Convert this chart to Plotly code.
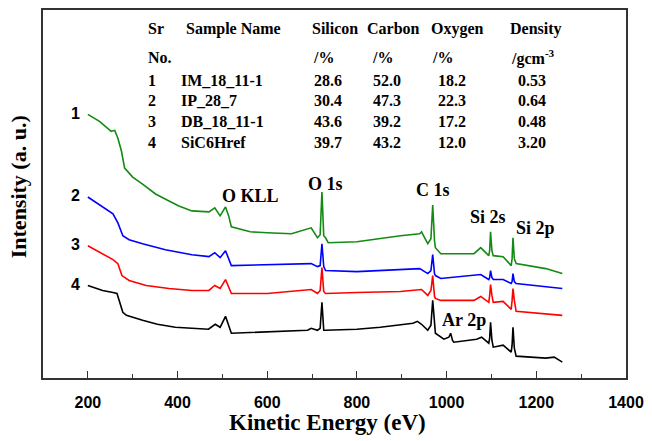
import plotly.graph_objects as go

# ---- data ----
E_1 = [200,226,252,260,267,275,282,300,322,351,381,403,432,470,483,495,507,514,520,562,600,654,698,712,718,722,726,730,736,800,897,940,944,958,965,969,973,975,987,1061,1076,1094,1096,1098,1101,1104,1126,1144,1146,1148,1151,1155,1221,1258]
I_1 = [265,258,248,249,241,228,211,202,195,185,178,173,168,167,171,163,172,163,152,147,146,145,151,141,144,187,143,141,136,137,143,145,147,135,140,174,138,131,125,125,131,123,128,147,128,123,122,113,120,141,120,115,110,105]

E_2 = [200,256,267,278,292,322,373,432,470,483,495,507,520,600,698,712,718,722,726,730,800,940,958,965,969,973,975,987,1076,1094,1096,1098,1101,1104,1126,1144,1146,1148,1151,1155,1258]
I_2 = [182,165,156,143,139,135,129,124,122,126,121,128,113,114,115,112,113,135,112,108,107,110,105,108,124,105,103,100,104,99,101,108,101,99,99,95,97,105,97,95,90]

E_3 = [200,256,267,276,292,330,381,432,470,483,495,507,520,600,698,712,718,722,726,730,800,897,944,958,965,969,973,975,987,1061,1076,1094,1096,1098,1101,1104,1126,1144,1146,1148,1151,1155,1258]
I_3 = [133,119,115,103,98,93,90,88,88,93,90,99,85,85,89,85,88,111,87,85,86,87,89,83,88,103,82,80,78,78,82,76,83,94,83,76,77,69,78,90,78,67,63]

E_4 = [200,233,256,265,278,286,322,355,395,469,484,495,507,520,690,698,712,718,722,726,730,800,852,925,935,944,958,965,969,973,975,994,1005,1009,1013,1016,1067,1078,1094,1096,1098,1101,1104,1126,1144,1146,1148,1151,1155,1221,1240,1258]
I_4 = [93,88,86,85,66,63,58,54,51,49,54,51,62,45,48,50,48,50,76,48,48,49,51,55,57,54,48,53,78,50,45,39,41,45,38,36,39,41,35,40,56,38,31,33,26,33,51,30,22,20,21,16]

curve_labels = ["1", "2", "3", "4"]
curve_colors = ["#138a13", "#0000ff", "#ff0000", "#000000"]

peak_names = ["O KLL", "O 1s", "C 1s", "Si 2s", "Si 2p", "Ar 2p"]
peak_E = [562, 730, 969, 1093, 1199, 1038]
peak_I = [183, 195, 189, 162, 151, 58]

x_ticks = [200, 400, 600, 800, 1000, 1200, 1400]

table_header1 = ["Sr", "Sample Name", "Silicon", "Carbon", "Oxygen", "Density"]
table_header2 = ["No.", "/%", "/%", "/%", "/gcm<sup>-3</sup>"]
table_sr = ["1", "2", "3", "4"]
table_names = ["IM_18_11-1", "IP_28_7", "DB_18_11-1", "SiC6Href"]
table_si = ["28.6", "30.4", "43.6", "39.7"]
table_c = ["52.0", "47.3", "39.2", "43.2"]
table_o = ["18.2", "22.3", "17.2", "12.0"]
table_rho = ["0.53", "0.64", "0.48", "3.20"]

# ---- figure ----
fig = go.Figure()
series = [(E_1, I_1), (E_2, I_2), (E_3, I_3), (E_4, I_4)]
for (ex, iy), col in zip(series, curve_colors):
    fig.add_trace(go.Scatter(x=ex, y=iy, mode="lines",
                             line=dict(color=col, width=1.6), showlegend=False))

serif = "Liberation Serif, Times New Roman, serif"
sans = "Liberation Sans, Arial, sans-serif"

ann = []
# curve numbers
for lab, (ex, iy) in zip(curve_labels, series):
    ann.append(dict(x=ex[0] - 14, y=iy[0] + 1, xref="x", yref="y", text=lab,
                    showarrow=False, xanchor="right", yanchor="middle",
                    font=dict(family=sans, size=16, color="black", weight="bold")))
# peak labels
for n, ex, iy in zip(peak_names, peak_E, peak_I):
    ann.append(dict(x=ex, y=iy, xref="x", yref="y", text=n, showarrow=False,
                    xanchor="center", yanchor="middle",
                    font=dict(family=serif, size=18, color="black", weight="bold")))

# table (pixel positions -> paper)
L, R, T, B = 43, 631, 8, 378
def px(x):
    return (x - L) / (R - L)
def py(y):
    return (B - y) / (B - T)

col_x_header = [147, 185, 312, 368, 432, 512]
col_x_sub = [147, 313, 373, 433, 513]
col_x_rows = [147, 180, 314, 374, 439, 520]
tfont = dict(family=serif, size=16, color="black", weight="bold")
for t, x in zip(table_header1, col_x_header):
    ann.append(dict(x=px(x), y=py(27), xref="paper", yref="paper", text=t,
                    showarrow=False, xanchor="left", yanchor="middle", font=tfont))
for t, x in zip(table_header2, col_x_sub):
    ann.append(dict(x=px(x), y=py(56), xref="paper", yref="paper", text=t,
                    showarrow=False, xanchor="left", yanchor="middle", font=tfont))
row_y = [79, 99, 120, 141]
for i, yy in enumerate(row_y):
    vals = [table_sr[i], table_names[i], table_si[i], table_c[i], table_o[i], table_rho[i]]
    for t, x in zip(vals, col_x_rows):
        ann.append(dict(x=px(x), y=py(yy), xref="paper", yref="paper", text=t,
                        showarrow=False, xanchor="left", yanchor="middle", font=tfont))

# axis titles
ann.append(dict(x=px(330), y=py(423), xref="paper", yref="paper",
                text="Kinetic Energy (eV)", showarrow=False, xanchor="center",
                yanchor="middle", font=dict(family=serif, size=23, color="black", weight="bold")))
ann.append(dict(x=px(18), y=py(186), xref="paper", yref="paper",
                text="Intensity (a. u.)", showarrow=False, textangle=-90,
                xanchor="center", yanchor="middle",
                font=dict(family=serif, size=22, color="black", weight="bold")))

fig.update_layout(
    width=652, height=441,
    margin=dict(l=L, r=652 - R, t=T, b=441 - B),
    paper_bgcolor="white", plot_bgcolor="white",
    annotations=ann,
    xaxis=dict(range=[100, 1400], tickvals=x_ticks, ticks="inside", ticklen=7,
               tickwidth=1.3, tickcolor="#333", showline=True, linecolor="#333",
               linewidth=1.5, mirror=True, showgrid=False, zeroline=False,
               ticklabelstandoff=9,
               tickfont=dict(family=sans, size=16, color="black", weight="bold"),
               minor=dict(tickvals=[300, 500, 700, 900, 1100, 1300], ticks="inside",
                          ticklen=4, tickwidth=1.2, tickcolor="#333")),
    yaxis=dict(range=[0, 370], showticklabels=False, ticks="", showline=True,
               linecolor="#333", linewidth=1.5, mirror=True, showgrid=False,
               zeroline=False),
)

fig.write_html("out.html", config={"displayModeBar": False},
               post_script="document.body.style.margin='0';document.body.style.overflow='hidden';")
